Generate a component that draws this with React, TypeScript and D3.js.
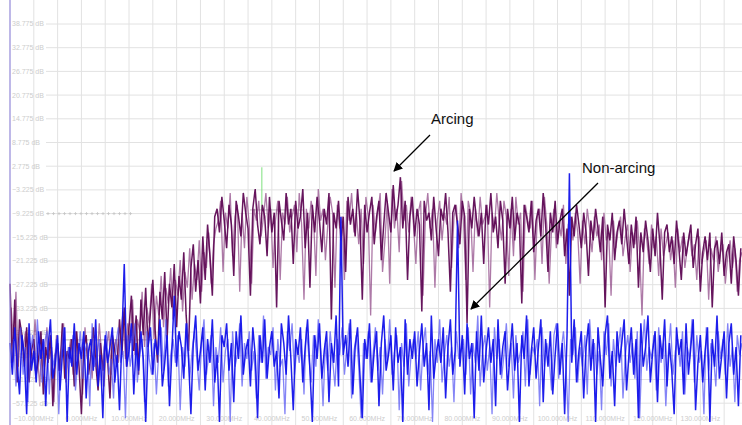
import { useEffect, useRef } from "react";
import * as d3 from "d3";

// spectrum sweeps, one sample every 0.5 MHz; the second sweep is shifted by 0.25 MHz
const freqStart = -15;
const freqStep = 0.5;
const sweepOffset = 0.25;

// Arcing trace (dB), sweep 1
const arcing = [
  -27, -47, -31, -52, -36,
  -40, -48, -38, -52, -44, -41, -50, -46, -39, -55,
  -43, -47, -40, -58, -45, -42, -49, -37, -51, -44,
  -46, -41, -53, -39, -48, -60, -43, -40, -50, -45,
  -38, -47, -54, -42, -49, -41, -46, -56, -40, -44,
  -48,
  -36, -45, -33, -48, -38, -30, -44, -35, -50, -31,
  -40, -28, -43, -34, -26, -39, -47, -29, -36, -24,
  -41, -27, -33, -22, -38, -25, -31, -19, -35, -44,
  -23, -17, -29, -21, -32, -15, -26, -12, -20, -30,
  -10,
  -8, -14, -5, -11, -18, -7, -12, -25, -6, -10,
  -15, -4, -9, -13, -30, -8, -3, -12, -17, -7,
  -10, -20, -5, -14, -9, -33, -6, -11, -16, -4,
  -12, -8, -22, -6, -13, -10, -3, -18, -9, -28,
  -7, -14, -5, -11, -19, -8, -12, -4, -36, -9,
  -13, -6, -16, -10, -24, -5, -12, -8, -15, -3,
  -11, -31, -7, -14, -9, -5, -17, -10, -6, -21,
  -12, -4, -9, -14, -2, -11, -7, 0, -13, -6,
  -26, -10, -5, -15, -8, -12, -34, -6, -11, -9,
  -16, -5, -13, -20, -8, -11, -4, -14, -29, -9,
  -7, -12, -17, -6, -10, -37, -8, -13, -5, -11,
  -15, -9, -22, -7, -12, -4, -14, -10, -18, -6,
  -11, -27, -8, -13, -5, -16, -9, -12, -32, -7,
  -10, -14, -6, -19, -11, -8, -15, -4, -12, -24,
  -9, -14, -6, -17, -11, -8, -20, -13, -30, -10,
  -15, -7, -12, -18, -9, -14, -25, -11, -16, -8,
  -13, -19, -10, -33, -12, -16, -9, -21, -14, -11,
  -17, -8, -15, -22, -12, -18, -10, -28, -14, -19,
  -11, -16, -24, -13, -20, -9, -17, -31, -14, -12,
  -19, -15, -22, -11, -18, -26, -14, -20, -16, -12,
  -23, -17, -13, -29, -19, -15, -21, -14, -33, -18,
  -16, -22, -14, -25, -19, -17, -27, -15, -21, -30, -18,
];

// Arcing trace (dB), sweep 2
const arcing2 = [
  -33, -42, -29, -48, -38,
  -44, -39, -51, -42, -47, -36, -45, -53, -41, -48,
  -38, -46, -43, -57, -40, -49, -44, -37, -52, -45,
  -41, -50, -39, -47, -43, -55, -38, -46, -42, -51,
  -40, -48, -37, -45, -53, -43, -39, -50, -44, -41,
  -47,
  -40, -34, -46, -37, -42, -31, -45, -36, -39, -29,
  -43, -33, -37, -27, -41, -30, -35, -25, -38, -28,
  -32, -23, -36, -26, -30, -21, -34, -24, -28, -18,
  -31, -22, -26, -16, -29, -19, -23, -14, -27, -17,
  -13,
  -11, -6, -24, -9, -13, -4, -20, -10, -7, -29,
  -9, -18, -5, -12, -27, -8, -11, -6, -15, -10,
  -4, -13, -8, -23, -11, -6, -26, -9, -12, -5,
  -14, -10, -7, -19, -4, -12, -31, -8, -13, -6,
  -10, -25, -3, -11, -8, -21, -12, -5, -9, -28,
  -7, -13, -10, -26, -6, -11, -4, -14, -9, -17,
  -8, -22, -5, -10, -35, -7, -14, -9, -4, -24,
  -16, -6, -27, -3, -13, -8, -19, -1, -11, -7,
  -14, -5, -12, -22, -9, -6, -30, -10, -4, -13,
  -8, -28, -11, -6, -16, -9, -12, -5, -23, -10,
  -7, -18, -4, -11, -26, -6, -9, -24, -8, -15,
  -5, -12, -10, -7, -33, -9, -13, -4, -11, -16,
  -6, -10, -25, -8, -20, -5, -12, -9, -29, -7,
  -11, -13, -6, -26, -10, -8, -22, -5, -12, -27,
  -13, -8, -18, -11, -15, -7, -22, -12, -10, -16,
  -9, -14, -27, -11, -17, -8, -13, -19, -10, -15,
  -12, -21, -9, -16, -14, -30, -11, -18, -13, -10,
  -20, -15, -12, -24, -14, -17, -11, -19, -35, -13,
  -16, -22, -12, -18, -15, -25, -13, -20, -17, -14,
  -21, -16, -28, -13, -19, -15, -23, -18, -14, -20,
  -17, -26, -15, -22, -19, -16, -31, -18, -21, -15,
  -24, -19, -17, -27, -20, -16, -23, -18, -29, -21,
  -19,
];

// Non-arcing trace (dB), sweep 1
const nonArcing = [
  -42, -50, -38, -47, -55, -40, -45, -60, -37, -49,
  -44, -52, -39, -46, -41, -58, -43, -36, -51, -47,
  -40, -54, -45, -38, -62, -43, -48, -37, -50, -42,
  -46, -39, -56, -44, -41, -49, -36, -53, -45, -61,
  -40, -47, -43, -38, -52, -45, -59, -41, -22, -48,
  -44, -37, -55, -42, -49, -39, -46, -62, -43, -38,
  -50, -41, -45, -36, -53, -47, -40, -58, -44, -30,
  -48, -39, -43, -51, -37, -46, -60, -42, -35, -49,
  -44, -38, -54, -41, -47, -36, -52, -45, -62, -40,
  -43, -37, -49, -42, -57, -39, -46, -35, -50, -44,
  -41, -53, -38, -45, -61, -40, -47, -36, -51, -43,
  -39, -48, -44, -56, -37, -42, -50, -35, -46, -59,
  -41, -45, -38, -52, -43, -36, -49, -62, -40, -46,
  -37, -51, -44, -39, -57, -42, -47, -35, -53, -10,
  -45, -40, -48, -36, -55, -43, -38, -50, -61, -41,
  -46, -37, -52, -44, -39, -58, -42, -35, -49, -45,
  -40, -54, -38, -47, -43, -62, -36, -50, -41, -46,
  -39, -53, -44, -37, -48, -42, -59, -35, -51, -45,
  -41, -47, -38, -56, -43, -36, -50, -44, -11, -48,
  -40, -55, -37, -46, -42, -61, -39, -49, -35, -52,
  -44, -38, -47, -41, -58, -36, -50, -43, -39, -54,
  -45, -37, -49, -42, -62, -40, -46, -35, -53, -44,
  -38, -51, -43, -36, -57, -41, -48, -39, -55, -45,
  -37, -50, -42, -60, -40, 1, -47, -36, -52, -44,
  -39, -56, -43, -37, -49, -41, -62, -38, -46, -53,
  -40, -35, -51, -44, -58, -39, -47, -42, -36, -54,
  -45, -38, -50, -41, -61, -37, -48, -43, -35, -52,
  -44, -39, -57, -40, -46, -36, -53, -42, -49, -60,
  -38, -45, -41, -55, -37, -50, -43, -36, -59, -47,
  -40, -52, -44, -38, -62, -41, -48, -35, -51, -45,
  -39, -56, -42, -37, -50, -43, -58, -40,
];

// Non-arcing trace (dB), sweep 2
const nonArcing2 = [
  -47, -41, -53, -44, -38, -50, -43, -57, -45, -40,
  -49, -36, -46, -52, -42, -39, -55, -44, -48, -41,
  -60, -45, -38, -50, -43, -47, -40, -54, -46, -39,
  -51, -44, -42, -58, -37, -48, -45, -41, -53, -43,
  -39, -50, -46, -56, -42, -38, -47, -44, -61, -40,
  -48, -43, -37, -52, -45, -41, -57, -39, -46, -50,
  -42, -55, -44, -38, -49, -36, -53, -45, -41, -47,
  -40, -59, -43, -48, -37, -51, -44, -39, -46, -54,
  -42, -36, -50, -45, -40, -58, -43, -47, -38, -52,
  -44, -41, -62, -39, -48, -45, -37, -53, -42, -46,
  -39, -49, -44, -56, -40, -47, -35, -51, -43, -45,
  -38, -54, -41, -48, -46, -60, -39, -44, -37, -50,
  -43, -47, -41, -55, -38, -45, -52, -40, -48, -36,
  -44, -58, -42, -49, -39, -46, -53, -41, -45, -38,
  -50, -43, -37, -56, -44, -40, -48, -61, -42, -46,
  -39, -52, -45, -38, -49, -43, -55, -41, -47, -36,
  -50, -44, -40, -59, -42, -48, -37, -53, -45, -41,
  -46, -39, -54, -43, -38, -50, -44, -62, -41, -47,
  -36, -52, -45, -40, -48, -43, -57, -39, -46, -44,
  -41, -50, -38, -55, -42, -47, -35, -53, -44, -40,
  -49, -43, -60, -38, -46, -41, -51, -45, -37, -48,
  -42, -56, -40, -47, -44, -39, -53, -36, -50, -43,
  -45, -41, -58, -38, -48, -42, -46, -54, -40, -37,
  -51, -44, -39, -47, -62, -41, -45, -38, -52, -43,
  -48, -40, -55, -36, -46, -42, -50, -44, -59, -39,
  -45, -37, -53, -41, -48, -43, -38, -56, -45, -40,
  -47, -42, -51, -39, -61, -44, -36, -49, -43, -46,
  -40, -54, -38, -47, -42, -58, -45, -37, -50, -44,
  -41, -48, -39, -55, -43, -46, -36, -52, -40, -47,
  -44, -60, -38, -49, -42, -45, -53, -39, -46, -41,
  -50, -37, -48, -43, -57, -40, -45, -42,
];

// axis ticks
const dbTicks = [
  38.775, 32.775, 26.775, 20.775, 14.775, 8.775, 2.775, -3.225, -9.225,
  -15.225, -21.225, -27.225, -33.225, -39.225, -45.225, -51.225, -57.225,
];
const mhzTicks = [-10, 0, 10, 20, 30, 40, 50, 60, 70, 80, 90, 100, 110, 120, 130];

// analyzer markers: [f1, dB1, f2, dB2, colour]
const markerLines = [
  [-3.5, -41.2, 15, -41.2, "#b8b8b8"],
  [35.4, -8.3, 46.5, -8.3, "#b8b8b8"],
  [37.9, 2.5, 37.9, -8.3, "#7ee07e"],
];

const App = () => {
  const ref = useRef(null);

  useEffect(() => {
    const width = 742;
    const height = 425;

    const svg = d3
      .select(ref.current)
      .append("svg")
      .attr("width", width)
      .attr("height", height)
      .style("display", "block")
      .style("background", "#fff");

    const x = d3.scaleLinear().domain([-15, 138.75]).range([10, 742]);
    const y = d3.scaleLinear().domain([38.775, -57.225]).range([24, 403.2]);

    // vertical grid every 5 MHz
    svg
      .append("g")
      .selectAll("line")
      .data(d3.range(-15, 140, 5))
      .enter()
      .append("line")
      .attr("x1", (d) => x(d))
      .attr("x2", (d) => x(d))
      .attr("y1", 0)
      .attr("y2", height)
      .attr("stroke", "#e2e2e2")
      .attr("stroke-width", 1);

    // horizontal grid with dB labels
    svg
      .append("g")
      .selectAll("line")
      .data(dbTicks)
      .enter()
      .append("line")
      .attr("x1", 46)
      .attr("x2", width)
      .attr("y1", (d) => y(d))
      .attr("y2", (d) => y(d))
      .attr("stroke", "#e2e2e2");

    svg
      .append("g")
      .selectAll("text")
      .data(dbTicks)
      .enter()
      .append("text")
      .attr("x", 12)
      .attr("y", (d) => y(d))
      .attr("dy", "0.35em")
      .style("font-family", "Liberation Sans, Arial, sans-serif")
      .style("font-size", "7px")
      .attr("fill", "#cdcdcd")
      .text((d) => `${d3.format(".3f")(d)} dB`);

    // reference level crosses
    svg
      .append("g")
      .selectAll("path")
      .data(d3.range(48, 132, 5.5))
      .enter()
      .append("path")
      .attr("d", (d) => `M${d - 1.5},${y(-9.225)}h3M${d},${y(-9.225) - 1.5}v3`)
      .attr("stroke", "#c4c4c4")
      .attr("stroke-width", 0.8);

    // MHz labels
    svg
      .append("g")
      .selectAll("text")
      .data(mhzTicks)
      .enter()
      .append("text")
      .attr("x", (d) => x(d))
      .attr("y", 421)
      .attr("text-anchor", "middle")
      .style("font-family", "Liberation Sans, Arial, sans-serif")
      .style("font-size", "7px")
      .attr("fill", "#cdcdcd")
      .text((d) => `${d3.format(".3f")(d)}MHz`);

    // markers
    svg
      .append("g")
      .selectAll("line")
      .data(markerLines)
      .enter()
      .append("line")
      .attr("x1", (d) => x(d[0]))
      .attr("y1", (d) => y(d[1]))
      .attr("x2", (d) => x(d[2]))
      .attr("y2", (d) => y(d[3]))
      .attr("stroke", (d) => d[4])
      .attr("stroke-width", 1);

    // traces
    const lineAt = (start) =>
      d3
        .line()
        .x((d, i) => x(start + i * freqStep))
        .y((d) => y(d));

    const traces = [
      { values: arcing2, start: freqStart + sweepOffset, color: "#8a4082", opacity: 0.7, w: 1.3 },
      { values: arcing, start: freqStart, color: "#5e0854", opacity: 0.95, w: 1.5 },
      { values: nonArcing2, start: freqStart + sweepOffset, color: "#5050f2", opacity: 0.7, w: 1.3 },
      { values: nonArcing, start: freqStart, color: "#1212ea", opacity: 0.95, w: 1.5 },
    ];

    traces.forEach((t) => {
      svg
        .append("path")
        .datum(t.values)
        .attr("d", lineAt(t.start))
        .attr("fill", "none")
        .attr("stroke", t.color)
        .attr("stroke-width", t.w)
        .attr("stroke-opacity", t.opacity);
    });

    // left border
    svg
      .append("line")
      .attr("x1", 10)
      .attr("x2", 10)
      .attr("y1", 0)
      .attr("y2", height)
      .attr("stroke", "#9c92e2")
      .attr("stroke-width", 1.2);

    // annotations
    svg
      .append("defs")
      .append("marker")
      .attr("id", "arrow")
      .attr("viewBox", "0 0 10 10")
      .attr("refX", 9)
      .attr("refY", 5)
      .attr("markerWidth", 7)
      .attr("markerHeight", 7)
      .attr("orient", "auto")
      .append("path")
      .attr("d", "M0,0L10,5L0,10z")
      .attr("fill", "#000");

    const notes = [
      { label: "Arcing", tx: 431, ty: 124, x1: 430, y1: 135, x2: 394, y2: 171 },
      { label: "Non-arcing", tx: 582, ty: 173, x1: 598, y1: 183, x2: 471, y2: 309 },
    ];

    notes.forEach((n) => {
      svg
        .append("text")
        .attr("x", n.tx)
        .attr("y", n.ty)
        .style("font-family", "Liberation Sans, Arial, sans-serif")
        .style("font-size", "15px")
        .attr("fill", "#111")
        .text(n.label);
      svg
        .append("line")
        .attr("x1", n.x1)
        .attr("y1", n.y1)
        .attr("x2", n.x2)
        .attr("y2", n.y2)
        .attr("stroke", "#000")
        .attr("stroke-width", 1.3)
        .attr("marker-end", "url(#arrow)");
    });

    return () => {
      // eslint-disable-next-line react-hooks/exhaustive-deps
      d3.select(ref.current).selectAll("*").remove();
    };
  }, []);

  return (
    <>
      <style>{`body{margin:0}`}</style>
      <div ref={ref}></div>
    </>
  );
};

export default App;
